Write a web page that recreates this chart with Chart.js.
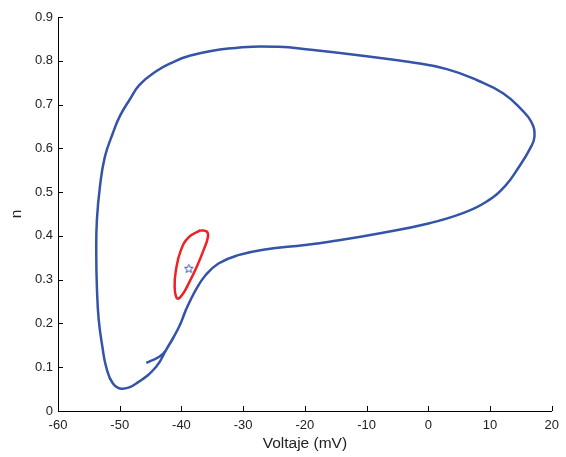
<!DOCTYPE html>
<html>
<head>
<meta charset="utf-8">
<script src="https://cdn.jsdelivr.net/npm/chart.js@4"></script>
<style>
  body { margin: 0; background: #fff; }
</style>
</head>
<body>
<canvas id="phaseChart" width="566" height="457"></canvas>
<script>
// limit cycle trajectory (blue)
const cycleV = [-45.7, -43.6, -42.5, -40.4, -39.3, -37.7, -36.1, -34.0, -30.8, -26.5, -20.0, -15.8, -7.8, 0.2, 5.6, 9.4, 12.5, 14.7, 16.5, 17.2, 16.7, 15.0, 12.1, 8.0, 3.0, -3.0, -11.0, -19.0, -24.3, -32.4, -38.8, -41.5, -44.1, -46.8, -48.4, -50.0, -51.1, -52.4, -53.2, -53.7, -53.8, -53.7, -53.4, -52.8, -52.2, -51.1, -49.5, -47.0, -44.1, -42.5, -40.4, -39.3];
const cycleN = [0.110, 0.124, 0.139, 0.192, 0.230, 0.276, 0.310, 0.337, 0.356, 0.369, 0.379, 0.387, 0.406, 0.429, 0.452, 0.478, 0.515, 0.558, 0.600, 0.627, 0.660, 0.690, 0.726, 0.755, 0.781, 0.797, 0.812, 0.825, 0.832, 0.828, 0.811, 0.796, 0.776, 0.745, 0.711, 0.673, 0.635, 0.581, 0.513, 0.436, 0.360, 0.284, 0.208, 0.146, 0.101, 0.063, 0.051, 0.066, 0.101, 0.139, 0.192, 0.230];

// small closed orbit (red)
const loopV = [-36.9, -38.8, -40.1, -40.9, -41.1, -40.7, -39.9, -38.8, -37.5, -36.4, -35.7, -35.9, -36.9];
const loopN = [0.413, 0.397, 0.367, 0.321, 0.284, 0.257, 0.265, 0.292, 0.330, 0.368, 0.398, 0.410, 0.413];

// equilibrium point
const starV = [-38.8];
const starN = [0.326];

const xTicks = [-60, -50, -40, -30, -20, -10, 0, 10, 20];
const yTicks = [0, 0.1, 0.2, 0.3, 0.4, 0.5, 0.6, 0.7, 0.8, 0.9];

const toPoints = (xs, ys) => xs.map((x, i) => ({ x: x, y: ys[i] }));

// outlined five-point star for the equilibrium marker
function makeStar(size, color) {
  const c = document.createElement('canvas');
  c.width = size; c.height = size;
  const g = c.getContext('2d');
  const cx = size / 2, cy = size / 2 + 0.5, R = size / 2 - 1, r = R * 0.45;
  g.beginPath();
  for (let k = 0; k < 10; k++) {
    const rad = k % 2 === 0 ? R : r;
    const a = -Math.PI / 2 + k * Math.PI / 5;
    const px = cx + rad * Math.cos(a), py = cy + rad * Math.sin(a);
    if (k === 0) g.moveTo(px, py); else g.lineTo(px, py);
  }
  g.closePath();
  g.strokeStyle = color;
  g.lineWidth = 1;
  g.stroke();
  return c;
}

// MATLAB style ticks pointing into the plot
const innerTicks = {
  id: 'innerTicks',
  afterDatasetsDraw(chart) {
    const { ctx, chartArea, scales } = chart;
    ctx.save();
    ctx.strokeStyle = '#000';
    ctx.lineWidth = 1;
    ctx.beginPath();
    xTicks.forEach(v => {
      const px = Math.round(scales.x.getPixelForValue(v)) + 0.5;
      ctx.moveTo(px, chartArea.bottom);
      ctx.lineTo(px, chartArea.bottom - 5);
    });
    yTicks.forEach(v => {
      const py = Math.round(scales.y.getPixelForValue(v)) + 0.5;
      ctx.moveTo(chartArea.left, py);
      ctx.lineTo(chartArea.left + 5, py);
    });
    ctx.stroke();
    ctx.restore();
  }
};

const FONT = 'Liberation Sans, Arial, sans-serif';

new Chart(document.getElementById('phaseChart'), {
  type: 'line',
  data: {
    datasets: [
      {
        data: toPoints(cycleV, cycleN),
        borderColor: '#3454a8',
        borderWidth: 2.5,
        pointRadius: 0,
        fill: false,
        tension: 0.45
      },
      {
        data: toPoints(loopV, loopN),
        borderColor: '#ee2222',
        borderWidth: 2.5,
        pointRadius: 0,
        fill: false,
        tension: 0.45
      },
      {
        data: toPoints(starV, starN),
        showLine: false,
        pointStyle: makeStar(11, '#3454a8'),
        pointRadius: 5
      }
    ]
  },
  options: {
    responsive: false,
    animation: false,
    layout: { padding: { left: 0, right: 10, top: 17, bottom: 0 } },
    plugins: { legend: { display: false }, tooltip: { enabled: false } },
    scales: {
      x: {
        type: 'linear',
        min: -60, max: 20,
        afterBuildTicks: s => { s.ticks = xTicks.map(v => ({ value: v })); },
        afterFit: s => { s.height = 46; },
        grid: { display: true, drawOnChartArea: false, drawTicks: false },
        border: { display: true, color: '#000', width: 1 },
        ticks: { color: '#222', font: { family: FONT, size: 13 }, padding: 7, maxRotation: 0 },
        title: { display: true, text: 'Voltaje (mV)', color: '#222', font: { family: FONT, size: 15.5 }, padding: { top: 2, bottom: 4 } }
      },
      y: {
        type: 'linear',
        min: 0, max: 0.9,
        afterBuildTicks: s => { s.ticks = yTicks.map(v => ({ value: v })); },
        afterFit: s => { s.width = 58; },
        grid: { display: true, drawOnChartArea: false, drawTicks: false },
        border: { display: true, color: '#000', width: 1 },
        ticks: { color: '#222', font: { family: FONT, size: 13 }, padding: 5, callback: v => String(+v.toFixed(1)) },
        title: { display: true, text: 'n', color: '#222', font: { family: FONT, size: 15.5 }, padding: { top: 7, bottom: 0 } }
      }
    }
  },
  plugins: [innerTicks]
});
</script>
</body>
</html>
